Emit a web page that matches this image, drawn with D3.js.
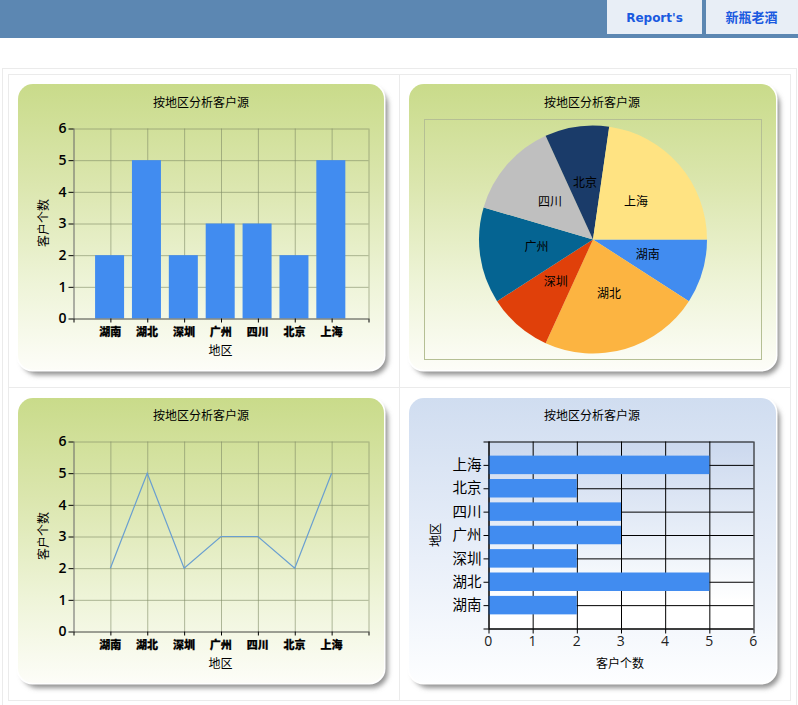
<!DOCTYPE html>
<html>
<head>
<meta charset="utf-8">
<style>
  html, body { margin: 0; padding: 0; background: #fff; overflow: hidden; }
  text { font-family: "Noto Sans CJK SC", sans-serif; fill: #000; }
</style>
<script src="https://cdn.jsdelivr.net/npm/d3@7"></script>
</head>
<body>
<svg id="page" width="798" height="705"></svg>
<script>
const title = "按地区分析客户源";
const regions = ["湖南", "湖北", "深圳", "广州", "四川", "北京", "上海"];
const customers = [2, 5, 2, 3, 3, 2, 5];
const xName = "地区";
const yName = "客户个数";
const tabs = ["Report's", "新瓶老酒"];
// palette of the original chart control
const sliceColors = ["#418cf0", "#fcb441", "#e0400a", "#056492", "#bfbfbf", "#1a3b69", "#ffe382"];
const barColor = "#418cf0";

const svg = d3.select("#page");
const defs = svg.append("defs");

function gradient(id, stops) {
  const g = defs.append("linearGradient").attr("id", id)
    .attr("x1", 0).attr("y1", 0).attr("x2", 0).attr("y2", 1);
  stops.forEach(s => g.append("stop").attr("offset", s[0]).attr("stop-color", s[1]));
}
gradient("green", [[0, "#c9db8a"], [0.35, "#dbe6ae"], [0.7, "#eef4d8"], [1, "#fdfdf8"]]);
gradient("blue", [[0, "#d0ddf0"], [0.5, "#e6edf8"], [1, "#fdfeff"]]);
gradient("bluePlot", [[0, "#cbd8ee"], [0.6, "#eef3fa"], [0.85, "#ffffff"], [1, "#ffffff"]]);
defs.append("filter").attr("id", "blur").attr("x", "-5%").attr("y", "-5%").attr("width", "110%").attr("height", "110%")
  .append("feGaussianBlur").attr("stdDeviation", 2.6);

// header band and tabs
svg.append("rect").attr("width", 798).attr("height", 38).attr("fill", "#5c87b2");
const tabBoxes = [[607, 95], [706, 92]];
tabs.forEach((t, i) => {
  svg.append("rect").attr("x", tabBoxes[i][0]).attr("y", 0).attr("width", tabBoxes[i][1]).attr("height", 34).attr("fill", "#e8eef6");
  svg.append("text").attr("x", tabBoxes[i][0] + tabBoxes[i][1] / 2 + (i ? -0.5 : 0)).attr("y", 22)
    .attr("text-anchor", "middle").style("font-weight", 700).style("fill", "#1a5ae0")
    .style("font-size", i ? "13px" : "12px")
    .style("font-family", i ? null : "'DejaVu Sans', sans-serif")
    .text(t);
});

// table borders around the four cells
const rule = "#ebebeb";
svg.append("rect").attr("x", 2.5).attr("y", 68.5).attr("width", 794).attr("height", 640).attr("fill", "none").attr("stroke", rule);
[[8.5, 74.5, 391, 313], [399.5, 74.5, 391, 313], [8.5, 387.5, 391, 313], [399.5, 387.5, 391, 313]].forEach(c => {
  svg.append("rect").attr("x", c[0]).attr("y", c[1]).attr("width", c[2]).attr("height", c[3]).attr("fill", "none").attr("stroke", rule);
});

function card(x, y, w, h, fill) {
  const g = svg.append("g");
  g.append("rect").attr("x", x + 4).attr("y", y + 5).attr("width", w).attr("height", h).attr("rx", 16)
    .attr("fill", "#939393").attr("filter", "url(#blur)");
  g.append("rect").attr("x", x - 1.5).attr("y", y - 1.5).attr("width", w + 3).attr("height", h + 3).attr("rx", 16).attr("fill", "#fff");
  g.append("rect").attr("x", x).attr("y", y).attr("width", w).attr("height", h).attr("rx", 15).attr("fill", fill);
  return g;
}

function chartTitle(cx, y) {
  svg.append("text").attr("x", cx).attr("y", y).attr("text-anchor", "middle").style("font-size", "12px").text(title);
}

function axisName(x, y, label, rotate) {
  svg.append("text").attr("text-anchor", "middle").style("font-size", "12px")
    .attr("transform", `translate(${x},${y})` + (rotate ? " rotate(-90)" : "")).text(label);
}

// shared frame of the two vertical charts (bar and line)
function columnFrame(top, bottom) {
  const x = d3.scaleLinear().domain([0, regions.length + 1]).range([73.5, 368.5]);
  const y = d3.scaleLinear().domain([0, 6]).range([bottom, top]);
  const grid = "#7f8a66";
  const tickVals = d3.range(1, regions.length + 1);

  svg.append("g").attr("transform", `translate(73.5,0)`)
    .call(d3.axisLeft(y).ticks(6).tickSize(-295).tickFormat(""))
    .call(g => g.select(".domain").remove())
    .call(g => g.selectAll("line").attr("stroke", grid).attr("stroke-opacity", 0.6));
  svg.append("g").attr("transform", `translate(0,${top})`)
    .call(d3.axisBottom(x).tickValues(tickVals.concat([regions.length + 1])).tickSize(bottom - top).tickFormat(""))
    .call(g => g.select(".domain").remove())
    .call(g => g.selectAll("line").attr("stroke", grid).attr("stroke-opacity", 0.6));
  return { x, y, top, bottom, tickVals };
}

function columnAxes(f) {
  svg.append("g").attr("transform", `translate(73.5,0)`)
    .call(d3.axisLeft(f.y).ticks(6).tickSize(5).tickPadding(2).tickFormat(d3.format("d")))
    .call(g => g.select(".domain").attr("stroke", "#666").attr("d", `M0.5,${f.top}V${f.bottom}`))
    .call(g => g.selectAll("line").attr("stroke", "#000"))
    .call(g => g.selectAll("text").style("font-size", "14px").style("font-weight", 600).style("font-family", "'Open Sans', sans-serif"));
  svg.append("g").attr("transform", `translate(0,${f.bottom})`)
    .call(d3.axisBottom(f.x).tickValues([0].concat(f.tickVals, [regions.length + 1])).tickSize(4).tickPadding(6)
      .tickFormat(d => regions[d - 1] || ""))
    .call(g => g.select(".domain").attr("stroke", "#666").attr("d", "M73.5,0.5H368.5"))
    .call(g => g.selectAll("line").attr("stroke", "#000"))
    .call(g => g.selectAll("text").attr("dx", -0.7).style("font-size", "11px").style("font-weight", 900)
      .style("stroke", "#000").style("stroke-width", 0.25));
}

// top left: column chart
card(18, 84, 366, 286, "url(#green)");
chartTitle(201, 107);
const f1 = columnFrame(128.5, 318.5);
svg.append("g").selectAll("rect").data(customers).join("rect")
  .attr("x", (d, i) => f1.x(i + 1) - 15.3)
  .attr("width", 29)
  .attr("y", d => f1.y(d))
  .attr("height", d => f1.y(0) - f1.y(d))
  .attr("fill", barColor);
columnAxes(f1);
axisName(220.5, 355, xName);
axisName(48, 223, yName, true);

// top right: pie chart
card(409, 84, 367, 286, "url(#green)");
chartTitle(592, 107);
svg.append("rect").attr("x", 424.5).attr("y", 119.5).attr("width", 337).attr("height", 240)
  .attr("fill", "none").attr("stroke", "#b5bf94");
const pieGen = d3.pie().sort(null).startAngle(Math.PI / 2).endAngle(Math.PI * 2.5);
const arc = d3.arc().innerRadius(0).outerRadius(114);
const labelArc = d3.arc().innerRadius(57).outerRadius(57);
const pieG = svg.append("g").attr("transform", "translate(593,239.5)");
const slices = pieGen(customers);
pieG.selectAll("path").data(slices).join("path")
  .attr("d", arc).attr("fill", (d, i) => sliceColors[i]);
pieG.selectAll("text").data(slices).join("text")
  .attr("transform", d => `translate(${labelArc.centroid(d)})`)
  .attr("text-anchor", "middle").attr("dy", "0.3em").style("font-size", "12px")
  .text((d, i) => regions[i]);

// bottom left: line chart
card(18, 398, 366, 285, "url(#green)");
chartTitle(201, 420);
const f3 = columnFrame(441.5, 631.5);
const line = d3.line().x((d, i) => f3.x(i + 1)).y(d => f3.y(d));
svg.append("path").datum(customers).attr("d", line)
  .attr("fill", "none").attr("stroke", "#6a9fd0").attr("stroke-width", 1.2);
columnAxes(f3);
axisName(220.5, 668, xName);
axisName(48, 536, yName, true);

// bottom right: horizontal bars
card(409, 398, 367, 285, "url(#blue)");
chartTitle(592, 420);
const hx = d3.scaleLinear().domain([0, 6]).range([488.5, 753.5]);
const hy = d3.scaleLinear().domain([0, regions.length + 1]).range([628.5, 441.5]);
const hTicks = d3.range(1, regions.length + 1);
svg.append("rect").attr("x", hx(0)).attr("y", hy(8)).attr("width", hx(6) - hx(0)).attr("height", hy(0) - hy(8))
  .attr("fill", "url(#bluePlot)");
svg.append("g").attr("transform", `translate(488.5,0)`)
  .call(d3.axisLeft(hy).tickValues([0].concat(hTicks, [8])).tickSize(-265).tickFormat(""))
  .call(g => g.select(".domain").remove())
  .call(g => g.selectAll("line").attr("stroke", "#000"));
svg.append("g").attr("transform", `translate(0,441.5)`)
  .call(d3.axisBottom(hx).ticks(6).tickSize(187).tickFormat(""))
  .call(g => g.select(".domain").remove())
  .call(g => g.selectAll("line").attr("stroke", "#000"));
svg.append("g").selectAll("rect").data(customers).join("rect")
  .attr("x", hx(0))
  .attr("width", d => hx(d) - hx(0))
  .attr("y", (d, i) => hy(i + 1) - 9.25)
  .attr("height", 18.5)
  .attr("fill", barColor);
svg.append("g").attr("transform", `translate(488.5,0)`)
  .call(d3.axisLeft(hy).tickValues([0].concat(hTicks, [8])).tickSize(5).tickPadding(2).tickFormat(d => regions[d - 1] || ""))
  .call(g => g.select(".domain").attr("stroke", "#000").attr("d", "M0.5,441.5V628.5"))
  .call(g => g.selectAll("line").attr("stroke", "#000"))
  .call(g => g.selectAll("text").style("font-size", "14.5px"));
svg.append("g").attr("transform", `translate(0,628.5)`)
  .call(d3.axisBottom(hx).ticks(6).tickSize(5).tickPadding(3).tickFormat(d3.format("d")))
  .call(g => g.select(".domain").attr("stroke", "#000").attr("d", "M488.5,0.5H753.5"))
  .call(g => g.selectAll("line").attr("stroke", "#000"))
  .call(g => g.selectAll("text").attr("dx", -0.7).style("font-size", "14px").style("fill", "#222").style("font-family", "'Open Sans', sans-serif"));
axisName(620, 668, yName);
axisName(440, 535, xName, true);
</script>
</body>
</html>
